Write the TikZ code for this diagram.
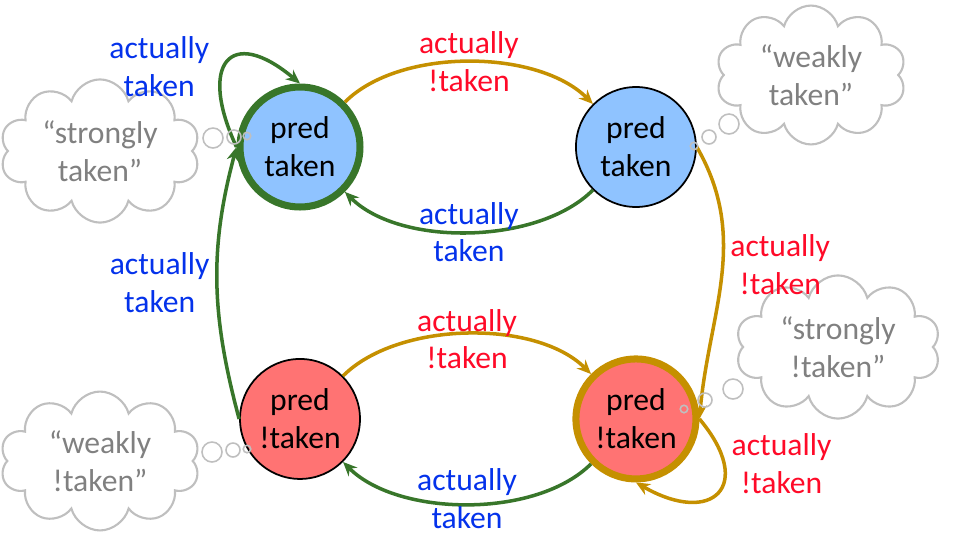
\documentclass[tikz,border=0pt]{standalone}
\usepackage{fontspec}
\setmainfont{Carlito}
\usetikzlibrary{arrows.meta,positioning,shapes.symbols}

\definecolor{predblue}{RGB}{143,195,255}
\definecolor{predred}{RGB}{255,115,115}
\definecolor{tkgreen}{RGB}{56,118,42}
\definecolor{ntgold}{RGB}{197,144,0}
\definecolor{tkblue}{RGB}{4,50,235}
\definecolor{ntred}{RGB}{255,10,40}
\definecolor{thoughtgray}{RGB}{128,128,128}
\definecolor{cloudgray}{RGB}{191,191,191}

\begin{document}
\begin{tikzpicture}[x=0.02cm,y=0.02cm,>={Stealth[length=8pt,width=7pt]},node distance=6.72cm,
  font=\fontsize{18}{21.5}\selectfont,
  state/.style={circle,draw,line width=1pt,minimum size=2.4cm,inner sep=0pt,align=center},
  strong/.style={line width=4pt},
  tkedge/.style={->,draw=tkgreen,line width=2pt},
  ntedge/.style={->,draw=ntgold,line width=2pt},
  tklabel/.style={text=tkblue,align=center},
  ntlabel/.style={text=ntred,align=center},
  thought/.style={cloud,cloud puffs=10,aspect=1.7,draw=cloudgray,line width=1.2pt,
    text=thoughtgray,align=center,minimum width=4cm,minimum height=2.4cm},
  bubble/.style={circle,draw=cloudgray,line width=0.9pt,inner sep=0pt}]
  \useasboundingbox (0,0) rectangle (958,-545);

  % thought clouds
  \node[thought,minimum height=2.25cm] (STc) at (100,-151) {“strongly\\taken”};
  \node[thought,minimum width=3.7cm] (WTc) at (811,-75) {“weakly\\taken”};
  \node[thought,minimum width=4.1cm] (SNc) at (838,-347) {“strongly\\!taken”};
  \node[thought] (WNc) at (100,-461) {“weakly\\!taken”};

  \node[state,strong,fill=predblue,draw=tkgreen] (ST) at (300,-147) {pred\\taken};
  \node[state,fill=predblue] (WT) [right of=ST] {pred\\taken};
  \node[state,strong,fill=predred,draw=ntgold] (SN) [below of=WT,node distance=5.44cm] {pred\\!taken};
  \node[state,fill=predred] (WN) [left of=SN] {pred\\!taken};

  \draw[ntedge] (ST) to[out=45,in=135,looseness=0.8] node[ntlabel]{actually\\!taken} (WT);
  \draw[tkedge] (WT) to[out=225,in=-45,looseness=0.8] node[tklabel]{actually\\taken} (ST);
  \draw[ntedge] (WN) to[out=45,in=135,looseness=0.8] node[ntlabel,yshift=-3pt]{actually\\!taken} (SN);
  \draw[tkedge] (SN) to[out=225,in=-45,looseness=0.8] node[tklabel,yshift=3pt]{actually\\taken} (WN);
  \draw[tkedge] (WN.west) to[out=105,in=-105] node[tklabel,left]{actually\\taken} (ST.west);
  \draw[ntedge] (WT.east) to[out=-60,in=85] node[ntlabel,right,pos=0.45]{actually\\!taken} (SN.east);
  \draw[tkedge] (ST.west) to[out=115,in=140,looseness=2.6] node[tklabel,left,pos=0.4,xshift=-3pt,yshift=3pt]{actually\\taken} (ST.north);
  \draw[ntedge] (SN.east) to[out=-50,in=-30,looseness=2.5] node[ntlabel,right,pos=0.25]{actually\\!taken} (SN.south);

  \foreach \b/\x/\y/\s in {STb1/213/-138/0.4cm, STb2/234/-137/0.28cm, STb3/247/-136/0.15cm,
      WTb1/729/-124/0.4cm, WTb2/709/-137/0.28cm, WTb3/694/-146/0.15cm,
      SNb1/733/-389/0.4cm, SNb2/705/-400/0.28cm, SNb3/684/-409/0.15cm,
      WNb1/212/-452/0.4cm, WNb2/233/-450/0.28cm, WNb3/247/-449/0.15cm}
    \node[bubble,minimum size=\s] (\b) at (\x,\y) {};
\end{tikzpicture}
\end{document}
